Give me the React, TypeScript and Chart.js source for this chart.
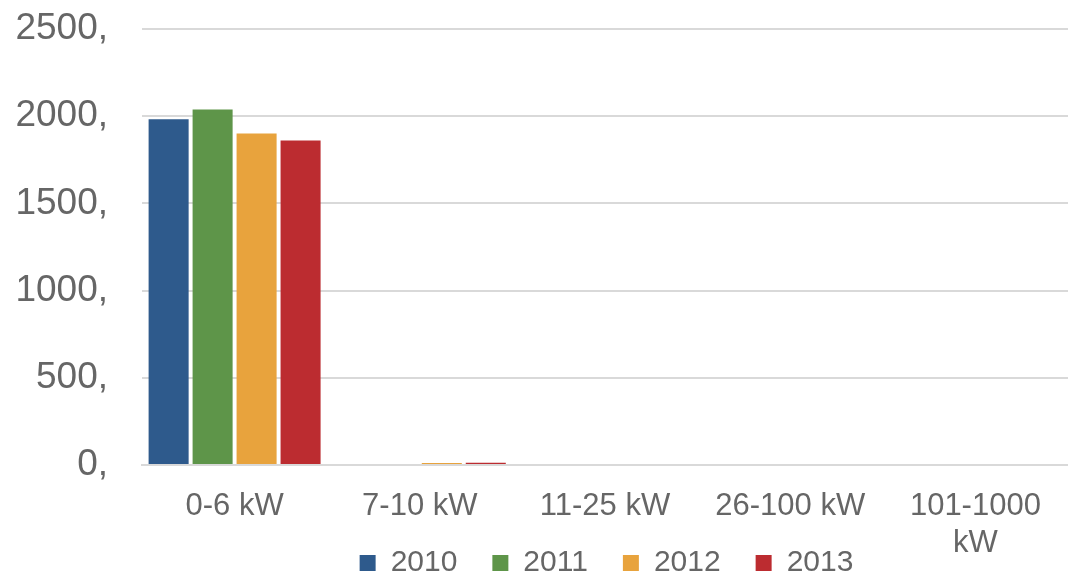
import React, { useEffect, useRef } from "react";
import { Chart, registerables } from "chart.js";

Chart.register(...registerables);

const categories: (string | string[])[] = ["0-6 kW", "7-10 kW", "11-25 kW", "26-100 kW", ["101-1000", "kW"]];
const seriesNames = ["2010", "2011", "2012", "2013"];
const values2010 = [1982, 0, 0, 0, 0];
const values2011 = [2039, 0, 0, 0, 0];
const values2012 = [1901, 11, 0, 0, 0];
const values2013 = [1861, 13, 0, 0, 0];
const colors = ["#2E5A8C", "#5E9549", "#E8A33D", "#BC2C30"];
const yTicks = [0, 500, 1000, 1500, 2000, 2500];

const LEGEND_CENTER_Y = 563;
const LEGEND_SHIFT_X = 14;

const fixLayout = {
  id: "fixLayout",
  afterLayout(chart: any) {
    const x = chart.scales.x;
    x.bottom = chart.height;
    x.height = x.bottom - x.top;
    const lg = chart.legend;
    if (lg) {
      const pad = lg.options.labels.padding;
      const size = lg.options.labels.font.size;
      const h = lg.height;
      lg.top = LEGEND_CENTER_Y - pad - size / 2;
      lg.bottom = lg.top + h;
      lg.left += LEGEND_SHIFT_X;
      lg.right += LEGEND_SHIFT_X;
    }
  },
};

export default function App() {
  const ref = useRef<HTMLCanvasElement>(null);
  useEffect(() => {
    document.body.style.margin = "0";
    const all = [values2010, values2011, values2012, values2013];
    const chart = new Chart(ref.current!, {
      type: "bar",
      data: {
        labels: categories,
        datasets: seriesNames.map((n, i) => ({
          label: n,
          data: all[i],
          backgroundColor: colors[i],
          borderWidth: 0,
          categoryPercentage: 0.95,
          barPercentage: 0.91,
        })),
      },
      plugins: [fixLayout],
      options: {
        animation: false,
        responsive: false,
        layout: { padding: { top: 29, right: 0, bottom: 0, left: 0 } },
        plugins: {
          tooltip: { enabled: false },
          legend: {
            position: "bottom",
            fullSize: false,
            labels: {
              color: "#666666",
              font: { family: "Liberation Sans, Arial", size: 30 },
              boxWidth: 16,
              boxHeight: 16,
              padding: 10,
              generateLabels: (chart: any) =>
                Chart.defaults.plugins.legend.labels.generateLabels(chart).map((l: any) => ({
                  ...l,
                  text: l.text + "   ",
                })),
            },
          },
        },
        scales: {
          x: {
            grid: { display: false, drawTicks: false },
            border: { display: true, color: "#d9d9d9", width: 2 },
            ticks: {
              color: "#666666",
              font: { family: "Liberation Sans, Arial", size: 31, lineHeight: 1.2 },
              padding: 23,
              maxRotation: 0,
              autoSkip: false,
            },
            afterFit: (s: any) => {
              s.height = 59;
            },
          },
          y: {
            min: 0,
            max: 2500,
            afterBuildTicks: (s: any) => {
              s.ticks = yTicks.map((v) => ({ value: v }));
            },
            grid: { color: "#d9d9d9", lineWidth: 2, drawTicks: false },
            border: { display: false },
            ticks: {
              color: "#666666",
              font: { family: "Liberation Sans, Arial", size: 37 },
              padding: 34,
              callback: (v: any) => v + ",",
            },
            afterFit: (s: any) => {
              s.width = 142;
              s.paddingTop = 0;
              s.paddingBottom = 0;
            },
          },
        },
      },
    });
    return () => chart.destroy();
  }, []);
  return (
    <div style={{ width: 1068, height: 574 }}>
      <canvas ref={ref} width={1068} height={574} style={{ display: "block" }} />
    </div>
  );
}
